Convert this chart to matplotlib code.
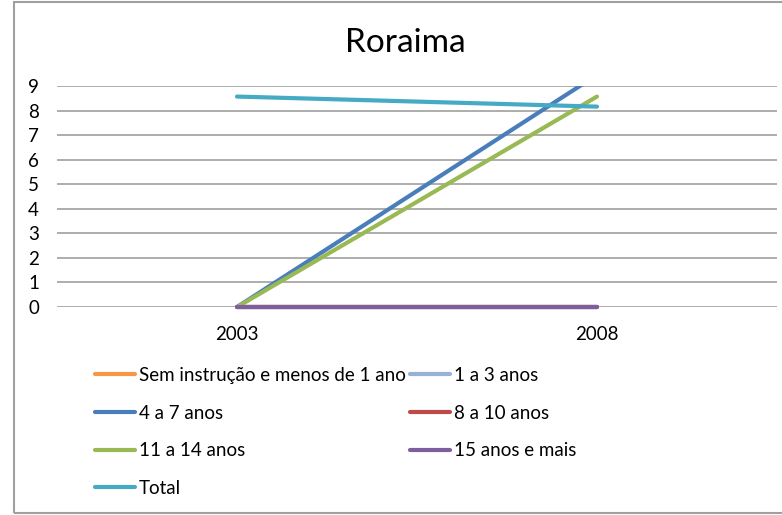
import matplotlib
matplotlib.use("Agg")
import matplotlib.pyplot as plt
from matplotlib.patches import Rectangle

plt.rcParams['font.family'] = ['Lato', 'DejaVu Sans']

years = ["2003", "2008"]
series_names = ["Sem instrução e menos de 1 ano", "1 a 3 anos", "4 a 7 anos",
                "8 a 10 anos", "11 a 14 anos", "15 anos e mais", "Total"]
sem_instrucao = [0, 0]
a1_3 = [0, 0]
a4_7 = [0, 9.45]
a8_10 = [0, 0]
a11_14 = [0, 8.57]
a15_mais = [0, 0]
total = [8.57, 8.16]
yticks = list(range(0, 10))

values = [sem_instrucao, a1_3, a4_7, a8_10, a11_14, a15_mais, total]
colors = ["#F79646", "#95B3D7", "#4A7EBB", "#BE4B48", "#98B954", "#7D5FA0", "#46AAC5"]

fig = plt.figure(figsize=(7.82, 5.15), dpi=100)
ax = fig.add_axes([57/782, 1-307/515, 720/782, 221/515])

x = list(range(len(years)))
handles = []
for name, vals, c in zip(series_names, values, colors):
    clip = max(vals) > 9
    h, = ax.plot(x, vals, color=c, lw=3.0, solid_capstyle='round', label=name,
                 clip_on=clip)
    handles.append(h)

ax.set_xlim(-0.5, 1.5)
ax.set_ylim(0, 9)
ax.set_yticks(yticks)
ax.set_xticks(x)
ax.set_xticklabels(years)
ax.grid(axis='y', color='#A0A0A0', lw=1.2)
ax.set_axisbelow(True)
for s in ax.spines.values():
    s.set_visible(False)
ax.tick_params(axis='both', length=0, labelsize=13.5, colors='black')
ax.tick_params(axis='y', pad=13)
ax.tick_params(axis='x', pad=14)

fig.text(405/782, 1-52/515, "Roraima", fontsize=24, ha='center', va='baseline')

order = [0, 2, 4, 6, 1, 3, 5]
leg = fig.legend([handles[i] for i in order], [series_names[i] for i in order],
                 ncol=2, loc='upper left', bbox_to_anchor=(95/782, 1-367/515),
                 frameon=False, fontsize=13.5, handlelength=2.15, handletextpad=0.2,
                 columnspacing=0.2, labelspacing=1.1, borderpad=0, borderaxespad=0)

fig.patches.append(Rectangle((14/782, 1-513/515), 1.0, 511/515, transform=fig.transFigure,
                             fill=False, edgecolor='#A0A0A0', lw=1.5))

fig.savefig("out.png", dpi=100)
